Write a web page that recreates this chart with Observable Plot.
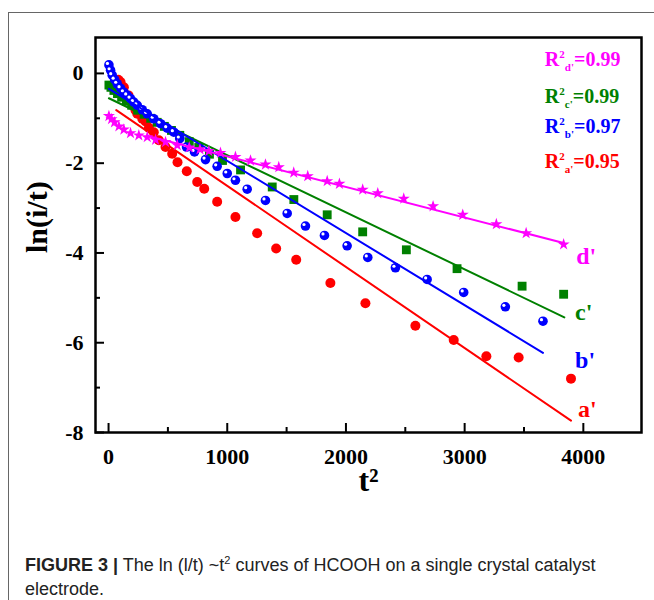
<!DOCTYPE html>
<html><head><meta charset="utf-8">
<script src="https://cdn.jsdelivr.net/npm/d3@7"></script>
<script src="https://cdn.jsdelivr.net/npm/@observablehq/plot@0.6"></script>
<style>
body{margin:0;background:#fff;}
#frame{position:absolute;left:8px;top:12px;width:700px;height:650px;border-left:1px solid #666;border-top:1px solid #666;}
#chart{position:absolute;left:0;top:0;}
#caption{position:absolute;left:25px;top:553px;width:600px;font-family:"Liberation Sans",Arial,sans-serif;font-size:18px;line-height:24px;color:#222;}
#caption sup{font-size:11px;line-height:0;}
</style></head><body>
<div id="frame"></div><div id="chart"></div>
<div id="caption"><b>FIGURE 3 |</b> The ln (l/t) ~t<sup>2</sup> curves of HCOOH on a single crystal catalyst electrode.</div>
<script>
// series a' (red circles)
const aX = [82,101,129,168,202,227,242,284,312,340,381,424,480,536,581,659,747,806,915,1069,1252,1412,1581,1869,2164,2585,2908,3183,3455,3896];
const aY = [-0.14,-0.19,-0.31,-0.49,-0.67,-0.82,-0.90,-1.01,-1.07,-1.21,-1.31,-1.49,-1.64,-1.79,-1.98,-2.18,-2.42,-2.57,-2.86,-3.20,-3.56,-3.90,-4.15,-4.67,-5.12,-5.62,-5.94,-6.30,-6.33,-6.80];
// series b' (blue balls)
const bX = [3,17,31,51,73,101,129,157,185,213,242,284,326,381,438,494,550,600,657,724,817,915,1000,1069,1168,1322,1505,1659,1819,2010,2184,2417,2684,2992,3343,3660];
const bY = [0.19,0.07,-0.04,-0.14,-0.23,-0.33,-0.42,-0.49,-0.56,-0.64,-0.71,-0.81,-0.90,-1.01,-1.12,-1.22,-1.31,-1.45,-1.64,-1.75,-1.92,-2.07,-2.23,-2.38,-2.58,-2.83,-3.12,-3.40,-3.61,-3.84,-4.10,-4.33,-4.59,-4.88,-5.20,-5.52];
// series c' (green squares)
const cX = [3,20,45,75,110,150,195,245,300,355,410,470,530,600,680,760,850,960,1112,1379,1561,1842,2141,2509,2936,3484,3834];
const cY = [-0.26,-0.31,-0.38,-0.45,-0.53,-0.62,-0.71,-0.82,-0.91,-1.00,-1.09,-1.18,-1.27,-1.38,-1.52,-1.65,-1.80,-1.94,-2.15,-2.53,-2.81,-3.15,-3.53,-3.93,-4.35,-4.74,-4.92];
// series d' (magenta stars)
const dX = [3,25,50,87,129,185,255,326,396,480,579,680,770,845,943,1069,1196,1322,1434,1560,1678,1842,1945,2141,2268,2487,2734,2984,3267,3518,3834];
const dY = [-0.95,-1.02,-1.09,-1.18,-1.25,-1.33,-1.38,-1.42,-1.48,-1.53,-1.60,-1.65,-1.69,-1.73,-1.77,-1.86,-1.94,-2.03,-2.09,-2.21,-2.29,-2.40,-2.46,-2.59,-2.67,-2.79,-2.96,-3.15,-3.36,-3.56,-3.81];

// linear fits: a', b', c', d'
const seriesNames = ["a'", "b'", "c'", "d'"];
const seriesColors = ["#ff0000", "#0000ff", "#008000", "#ff00ff"];
const fitSlope = [-0.001806, -0.001608, -0.001272, -0.00068];
const fitIntercept = [-0.70, -0.34, -0.55, -1.17];
const fitStart = [65, 3, 3, 330];
const fitEnd = [3896, 3660, 3840, 3834];

// curve labels
const labelX = [3955, 3930, 3930, 3940];
const labelY = [-7.48, -6.39, -5.32, -4.08];

// R² annotations (top to bottom: d', c', b', a')
const rOrder = [3, 2, 1, 0];
const rValues = ["0.99", "0.99", "0.97", "0.95"];
const rX = 3680;
const rY = [0.156, -0.67, -1.34, -2.12];

const xMajor = [0, 1000, 2000, 3000, 4000];
const xMinor = [500, 1500, 2500, 3500];
const yMajor = [0, -2, -4, -6, -8];
const yMinor = [-1, -3, -5, -7];

const pts = (xs, ys) => xs.map((x, i) => ({x, y: ys[i]}));
const fitData = seriesNames.flatMap((s, i) => [fitStart[i], fitEnd[i]].map(x => ({s, x, y: fitIntercept[i] + fitSlope[i] * x})));
const color = Object.fromEntries(seriesNames.map((s, i) => [s, seriesColors[i]]));
const labels = seriesNames.map((s, i) => ({s, x: labelX[i], y: labelY[i]}));

const serif = "'Liberation Serif', 'Times New Roman', serif";
const plot = Plot.plot({
  width: 654, height: 520,
  marginLeft: 95, marginRight: 13, marginTop: 37, marginBottom: 88,
  x: {domain: [-110, 4490]},
  y: {domain: [-8, 0.8]},
  style: {fontFamily: serif, background: "transparent", color: "black"},
  marks: [
    Plot.axisX({ticks: xMajor, tickSize: 0, tickPadding: 16, fontSize: 22, fontWeight: "bold", tickFormat: d => String(d), label: null}),
    Plot.axisX({ticks: xMajor, tickSize: 9, dy: -9, strokeWidth: 2, tickFormat: () => "", label: null}),
    Plot.axisX({ticks: xMinor, tickSize: 5, dy: -5, strokeWidth: 2, tickFormat: () => "", label: null}),
    Plot.axisY({ticks: yMajor, tickSize: 0, tickPadding: 12, fontSize: 22, fontWeight: "bold", tickFormat: d => String(d), label: null}),
    Plot.axisY({ticks: yMajor, tickSize: 9, dx: 9, strokeWidth: 2, tickFormat: () => "", label: null}),
    Plot.axisY({ticks: yMinor, tickSize: 5, dx: 5, strokeWidth: 2, tickFormat: () => "", label: null}),
    Plot.dot(pts(aX, aY), {x: "x", y: "y", r: 5, fill: seriesColors[0]}),
    Plot.line(fitData.filter(d => d.s === "a'"), {x: "x", y: "y", stroke: seriesColors[0], strokeWidth: 2}),
    Plot.dot(pts(cX, cY), {x: "x", y: "y", r: 5, symbol: "square", fill: seriesColors[2]}),
    Plot.line(fitData.filter(d => d.s === "c'"), {x: "x", y: "y", stroke: seriesColors[2], strokeWidth: 2}),
    Plot.dot(pts(bX, bY), {x: "x", y: "y", r: 4.8, fill: seriesColors[1]}),
    Plot.dot(pts(bX, bY), {x: "x", y: "y", r: 1.6, fill: "white", dx: -1.5, dy: -1.5}),
    Plot.line(fitData.filter(d => d.s === "b'"), {x: "x", y: "y", stroke: seriesColors[1], strokeWidth: 2}),
    Plot.line(fitData.filter(d => d.s === "d'"), {x: "x", y: "y", stroke: seriesColors[3], strokeWidth: 2}),
    Plot.dot(pts(dX, dY), {x: "x", y: "y", r: 3.8, symbol: "star", fill: seriesColors[3]}),
    Plot.text(labels, {x: "x", y: "y", text: "s", fill: d => color[d.s], textAnchor: "start", fontSize: 24, fontWeight: "bold"}),
    Plot.text(["ln(i/t)"], {frameAnchor: "left", rotate: -90, dx: -58, dy: 18, fontSize: 30, fontWeight: "bold"}),
    Plot.text(["t²"], {frameAnchor: "bottom", dy: 58, fontSize: 32, fontWeight: "bold"}),
    Plot.frame({stroke: "black", strokeWidth: 2.5})
  ]
});

const xs = plot.scale("x"), ys = plot.scale("y");
const svg = d3.select(plot);
rOrder.forEach((si, k) => {
  const t = svg.append("text")
    .attr("x", xs.apply(rX)).attr("y", ys.apply(rY[k]))
    .attr("text-anchor", "start")
    .attr("fill", seriesColors[si])
    .attr("font-family", serif).attr("font-weight", "bold").attr("font-size", 20);
  t.append("tspan").text("R");
  t.append("tspan").attr("dy", -8).attr("font-size", 11).text("2");
  t.append("tspan").attr("dy", 13).attr("font-size", 11).text(seriesNames[si]);
  t.append("tspan").attr("dy", -5).text("=" + rValues[k]);
});
document.getElementById("chart").appendChild(plot);
</script>
</body></html>
